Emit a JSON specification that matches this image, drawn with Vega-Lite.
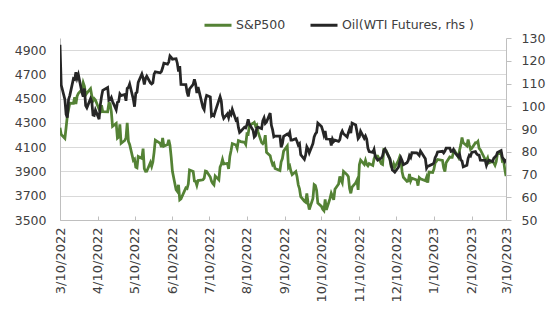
{
"$schema":"https://vega.github.io/schema/vega-lite/v6.json",
"width":446,"height":182,
"autosize":{"type":"none"},
"padding":{"left":60,"top":38,"right":42,"bottom":101},
"background":"white",
"config":{"view":{"stroke":null},"font":"DejaVu Sans","axis":{"labelFont":"DejaVu Sans","labelFontSize":12.5,"labelColor":"#404040","domainColor":"#bfbfbf","tickColor":"#bfbfbf","title":null},"legend":{"labelFont":"DejaVu Sans"}},
"data":{"values":[
{"date":"2022-03-10","spx":4259.5,"oil":127},
{"date":"2022-03-11","spx":4204.3,"oil":109.3},
{"date":"2022-03-14","spx":4173.1,"oil":103.0},
{"date":"2022-03-15","spx":4262.5,"oil":96.4},
{"date":"2022-03-16","spx":4357.9,"oil":95.0},
{"date":"2022-03-17","spx":4411.7,"oil":103.0},
{"date":"2022-03-18","spx":4463.1,"oil":104.7},
{"date":"2022-03-21","spx":4461.2,"oil":112.1},
{"date":"2022-03-22","spx":4511.6,"oil":111.8},
{"date":"2022-03-23","spx":4456.2,"oil":114.9},
{"date":"2022-03-24","spx":4520.2,"oil":112.3},
{"date":"2022-03-25","spx":4543.1,"oil":113.9},
{"date":"2022-03-28","spx":4575.5,"oil":106.0},
{"date":"2022-03-29","spx":4631.6,"oil":104.2},
{"date":"2022-03-30","spx":4602.5,"oil":107.8},
{"date":"2022-03-31","spx":4530.4,"oil":100.3},
{"date":"2022-04-01","spx":4545.9,"oil":99.3},
{"date":"2022-04-04","spx":4582.6,"oil":103.3},
{"date":"2022-04-05","spx":4525.1,"oil":102.0},
{"date":"2022-04-06","spx":4481.2,"oil":96.2},
{"date":"2022-04-07","spx":4500.2,"oil":96.0},
{"date":"2022-04-08","spx":4488.3,"oil":98.3},
{"date":"2022-04-11","spx":4412.5,"oil":94.3},
{"date":"2022-04-12","spx":4397.5,"oil":100.6},
{"date":"2022-04-13","spx":4446.6,"oil":104.3},
{"date":"2022-04-14","spx":4392.6,"oil":107.0},
{"date":"2022-04-18","spx":4391.7,"oil":108.2},
{"date":"2022-04-19","spx":4462.2,"oil":102.6},
{"date":"2022-04-20","spx":4459.5,"oil":102.8},
{"date":"2022-04-21","spx":4393.7,"oil":103.8},
{"date":"2022-04-22","spx":4271.8,"oil":102.1},
{"date":"2022-04-25","spx":4296.1,"oil":98.5},
{"date":"2022-04-26","spx":4175.2,"oil":101.7},
{"date":"2022-04-27","spx":4184.0,"oil":102.0},
{"date":"2022-04-28","spx":4287.5,"oil":105.4},
{"date":"2022-04-29","spx":4131.9,"oil":104.7},
{"date":"2022-05-02","spx":4155.4,"oil":105.2},
{"date":"2022-05-03","spx":4175.5,"oil":102.4},
{"date":"2022-05-04","spx":4300.2,"oil":107.8},
{"date":"2022-05-05","spx":4146.9,"oil":108.3},
{"date":"2022-05-06","spx":4123.3,"oil":109.8},
{"date":"2022-05-09","spx":3991.2,"oil":103.1},
{"date":"2022-05-10","spx":4001.1,"oil":99.8},
{"date":"2022-05-11","spx":3935.2,"oil":105.7},
{"date":"2022-05-12","spx":3930.1,"oil":106.1},
{"date":"2022-05-13","spx":4023.9,"oil":110.5},
{"date":"2022-05-16","spx":4008.0,"oil":114.2},
{"date":"2022-05-17","spx":4088.9,"oil":112.4},
{"date":"2022-05-18","spx":3923.7,"oil":109.6},
{"date":"2022-05-19","spx":3900.8,"oil":112.2},
{"date":"2022-05-20","spx":3901.4,"oil":113.2},
{"date":"2022-05-23","spx":3973.8,"oil":110.3},
{"date":"2022-05-24","spx":3941.5,"oil":109.8},
{"date":"2022-05-25","spx":3978.7,"oil":110.3},
{"date":"2022-05-26","spx":4057.8,"oil":114.1},
{"date":"2022-05-27","spx":4158.2,"oil":115.1},
{"date":"2022-05-31","spx":4132.2,"oil":114.7},
{"date":"2022-06-01","spx":4101.2,"oil":115.3},
{"date":"2022-06-02","spx":4176.8,"oil":116.9},
{"date":"2022-06-03","spx":4108.5,"oil":118.9},
{"date":"2022-06-06","spx":4121.4,"oil":118.5},
{"date":"2022-06-07","spx":4160.7,"oil":119.4},
{"date":"2022-06-08","spx":4115.8,"oil":122.1},
{"date":"2022-06-09","spx":4017.8,"oil":121.5},
{"date":"2022-06-10","spx":3900.9,"oil":120.7},
{"date":"2022-06-13","spx":3749.6,"oil":120.9},
{"date":"2022-06-14","spx":3735.5,"oil":118.9},
{"date":"2022-06-15","spx":3790.0,"oil":115.3},
{"date":"2022-06-16","spx":3666.8,"oil":117.6},
{"date":"2022-06-17","spx":3674.8,"oil":109.6},
{"date":"2022-06-21","spx":3764.8,"oil":109.5},
{"date":"2022-06-22","spx":3759.9,"oil":106.2},
{"date":"2022-06-23","spx":3795.7,"oil":104.3},
{"date":"2022-06-24","spx":3911.7,"oil":107.6},
{"date":"2022-06-27","spx":3900.1,"oil":109.6},
{"date":"2022-06-28","spx":3821.6,"oil":111.8},
{"date":"2022-06-29","spx":3818.8,"oil":109.8},
{"date":"2022-06-30","spx":3785.4,"oil":105.8},
{"date":"2022-07-01","spx":3825.3,"oil":108.4},
{"date":"2022-07-05","spx":3831.4,"oil":99.5},
{"date":"2022-07-06","spx":3845.1,"oil":98.5},
{"date":"2022-07-07","spx":3902.6,"oil":102.7},
{"date":"2022-07-08","spx":3899.4,"oil":104.8},
{"date":"2022-07-11","spx":3854.4,"oil":104.1},
{"date":"2022-07-12","spx":3818.8,"oil":95.8},
{"date":"2022-07-13","spx":3801.8,"oil":96.3},
{"date":"2022-07-14","spx":3790.4,"oil":95.8},
{"date":"2022-07-15","spx":3863.2,"oil":97.6},
{"date":"2022-07-18","spx":3830.9,"oil":102.6},
{"date":"2022-07-19","spx":3936.7,"oil":104.2},
{"date":"2022-07-20","spx":3959.9,"oil":102.3},
{"date":"2022-07-21","spx":3999.0,"oil":96.4},
{"date":"2022-07-22","spx":3961.6,"oil":94.7},
{"date":"2022-07-25","spx":3966.8,"oil":96.7},
{"date":"2022-07-26","spx":3921.1,"oil":95.0},
{"date":"2022-07-27","spx":4023.6,"oil":97.3},
{"date":"2022-07-28","spx":4072.4,"oil":96.4},
{"date":"2022-07-29","spx":4130.3,"oil":98.6},
{"date":"2022-08-01","spx":4118.6,"oil":93.9},
{"date":"2022-08-02","spx":4091.2,"oil":94.4},
{"date":"2022-08-03","spx":4155.2,"oil":90.7},
{"date":"2022-08-04","spx":4151.9,"oil":88.5},
{"date":"2022-08-05","spx":4145.2,"oil":89.0},
{"date":"2022-08-08","spx":4140.1,"oil":90.8},
{"date":"2022-08-09","spx":4122.5,"oil":90.5},
{"date":"2022-08-10","spx":4210.2,"oil":91.9},
{"date":"2022-08-11","spx":4207.3,"oil":94.3},
{"date":"2022-08-12","spx":4280.2,"oil":92.1},
{"date":"2022-08-15","spx":4297.1,"oil":89.4},
{"date":"2022-08-16","spx":4305.2,"oil":86.5},
{"date":"2022-08-17","spx":4274.0,"oil":87.1},
{"date":"2022-08-18","spx":4283.7,"oil":90.5},
{"date":"2022-08-19","spx":4228.5,"oil":90.8},
{"date":"2022-08-22","spx":4138.0,"oil":90.2},
{"date":"2022-08-23","spx":4128.7,"oil":93.7},
{"date":"2022-08-24","spx":4140.8,"oil":94.9},
{"date":"2022-08-25","spx":4199.1,"oil":92.5},
{"date":"2022-08-26","spx":4057.7,"oil":93.1},
{"date":"2022-08-29","spx":4030.6,"oil":97.0},
{"date":"2022-08-30","spx":3986.2,"oil":91.6},
{"date":"2022-08-31","spx":3955.0,"oil":89.6},
{"date":"2022-09-01","spx":3966.9,"oil":86.6},
{"date":"2022-09-02","spx":3924.3,"oil":86.9},
{"date":"2022-09-06","spx":3908.2,"oil":86.9},
{"date":"2022-09-07","spx":3979.9,"oil":81.9},
{"date":"2022-09-08","spx":4006.2,"oil":83.5},
{"date":"2022-09-09","spx":4067.4,"oil":86.8},
{"date":"2022-09-12","spx":4110.4,"oil":87.8},
{"date":"2022-09-13","spx":3932.7,"oil":87.3},
{"date":"2022-09-14","spx":3946.0,"oil":88.5},
{"date":"2022-09-15","spx":3901.4,"oil":85.1},
{"date":"2022-09-16","spx":3873.3,"oil":85.1},
{"date":"2022-09-19","spx":3899.9,"oil":85.7},
{"date":"2022-09-20","spx":3855.9,"oil":84.5},
{"date":"2022-09-21","spx":3789.9,"oil":82.9},
{"date":"2022-09-22","spx":3758.0,"oil":83.5},
{"date":"2022-09-23","spx":3693.2,"oil":78.7},
{"date":"2022-09-26","spx":3655.0,"oil":76.7},
{"date":"2022-09-27","spx":3647.3,"oil":78.5},
{"date":"2022-09-28","spx":3719.0,"oil":82.2},
{"date":"2022-09-29","spx":3640.5,"oil":81.2},
{"date":"2022-09-30","spx":3585.6,"oil":79.5},
{"date":"2022-10-03","spx":3678.4,"oil":83.6},
{"date":"2022-10-04","spx":3790.9,"oil":86.5},
{"date":"2022-10-05","spx":3783.3,"oil":87.8},
{"date":"2022-10-06","spx":3744.5,"oil":88.5},
{"date":"2022-10-07","spx":3639.7,"oil":92.6},
{"date":"2022-10-10","spx":3612.4,"oil":91.1},
{"date":"2022-10-11","spx":3588.8,"oil":89.4},
{"date":"2022-10-12","spx":3577.0,"oil":87.3},
{"date":"2022-10-13","spx":3669.9,"oil":89.1},
{"date":"2022-10-14","spx":3583.1,"oil":85.6},
{"date":"2022-10-17","spx":3678.0,"oil":85.5},
{"date":"2022-10-18","spx":3720.0,"oil":82.8},
{"date":"2022-10-19","spx":3695.2,"oil":85.6},
{"date":"2022-10-20","spx":3665.8,"oil":84.5},
{"date":"2022-10-21","spx":3752.8,"oil":85.1},
{"date":"2022-10-24","spx":3797.3,"oil":84.6},
{"date":"2022-10-25","spx":3859.1,"oil":85.3},
{"date":"2022-10-26","spx":3830.6,"oil":87.9},
{"date":"2022-10-27","spx":3807.3,"oil":89.1},
{"date":"2022-10-28","spx":3901.1,"oil":87.9},
{"date":"2022-10-31","spx":3872.0,"oil":86.5},
{"date":"2022-11-01","spx":3856.1,"oil":88.4},
{"date":"2022-11-02","spx":3759.7,"oil":90.0},
{"date":"2022-11-03","spx":3719.9,"oil":88.2},
{"date":"2022-11-04","spx":3770.6,"oil":92.6},
{"date":"2022-11-07","spx":3806.8,"oil":91.8},
{"date":"2022-11-08","spx":3828.1,"oil":88.9},
{"date":"2022-11-09","spx":3748.6,"oil":85.8},
{"date":"2022-11-10","spx":3956.4,"oil":86.5},
{"date":"2022-11-11","spx":3992.9,"oil":89.0},
{"date":"2022-11-14","spx":3957.3,"oil":85.9},
{"date":"2022-11-15","spx":3991.7,"oil":86.9},
{"date":"2022-11-16","spx":3958.8,"oil":85.6},
{"date":"2022-11-17","spx":3946.6,"oil":81.6},
{"date":"2022-11-18","spx":3965.3,"oil":80.1},
{"date":"2022-11-21","spx":3949.9,"oil":79.7},
{"date":"2022-11-22","spx":4003.6,"oil":81.0},
{"date":"2022-11-23","spx":4027.3,"oil":77.9},
{"date":"2022-11-25","spx":4026.1,"oil":76.3},
{"date":"2022-11-28","spx":3963.9,"oil":77.2},
{"date":"2022-11-29","spx":3957.6,"oil":78.2},
{"date":"2022-11-30","spx":4080.1,"oil":80.6},
{"date":"2022-12-01","spx":4076.6,"oil":81.2},
{"date":"2022-12-02","spx":4071.7,"oil":80.0},
{"date":"2022-12-05","spx":3998.8,"oil":76.9},
{"date":"2022-12-06","spx":3941.3,"oil":74.3},
{"date":"2022-12-07","spx":3933.9,"oil":72.0},
{"date":"2022-12-08","spx":3963.5,"oil":71.5},
{"date":"2022-12-09","spx":3934.4,"oil":71.0},
{"date":"2022-12-12","spx":3990.6,"oil":73.2},
{"date":"2022-12-13","spx":4019.7,"oil":75.4},
{"date":"2022-12-14","spx":3995.3,"oil":77.3},
{"date":"2022-12-15","spx":3895.8,"oil":76.1},
{"date":"2022-12-16","spx":3852.4,"oil":74.3},
{"date":"2022-12-19","spx":3817.7,"oil":75.2},
{"date":"2022-12-20","spx":3821.6,"oil":76.2},
{"date":"2022-12-21","spx":3878.4,"oil":78.3},
{"date":"2022-12-22","spx":3822.4,"oil":77.5},
{"date":"2022-12-23","spx":3844.8,"oil":79.6},
{"date":"2022-12-27","spx":3829.3,"oil":79.5},
{"date":"2022-12-28","spx":3783.2,"oil":79.0},
{"date":"2022-12-29","spx":3849.3,"oil":78.4},
{"date":"2022-12-30","spx":3839.5,"oil":80.3},
{"date":"2023-01-03","spx":3824.1,"oil":76.9},
{"date":"2023-01-04","spx":3853.0,"oil":72.8},
{"date":"2023-01-05","spx":3808.1,"oil":73.7},
{"date":"2023-01-06","spx":3895.1,"oil":73.8},
{"date":"2023-01-09","spx":3892.1,"oil":74.6},
{"date":"2023-01-10","spx":3919.3,"oil":75.1},
{"date":"2023-01-11","spx":3969.6,"oil":77.4},
{"date":"2023-01-12","spx":3983.2,"oil":78.4},
{"date":"2023-01-13","spx":3999.1,"oil":79.9},
{"date":"2023-01-17","spx":3991.0,"oil":80.2},
{"date":"2023-01-18","spx":3928.9,"oil":79.5},
{"date":"2023-01-19","spx":3898.9,"oil":80.3},
{"date":"2023-01-20","spx":3972.6,"oil":81.6},
{"date":"2023-01-23","spx":4019.8,"oil":81.6},
{"date":"2023-01-24","spx":4017.0,"oil":80.1},
{"date":"2023-01-25","spx":4016.2,"oil":80.2},
{"date":"2023-01-26","spx":4060.4,"oil":81.0},
{"date":"2023-01-27","spx":4070.6,"oil":79.7},
{"date":"2023-01-30","spx":4017.8,"oil":77.9},
{"date":"2023-01-31","spx":4076.6,"oil":78.9},
{"date":"2023-02-01","spx":4119.2,"oil":76.4},
{"date":"2023-02-02","spx":4179.8,"oil":75.9},
{"date":"2023-02-03","spx":4136.5,"oil":73.4},
{"date":"2023-02-06","spx":4111.1,"oil":74.1},
{"date":"2023-02-07","spx":4164.0,"oil":77.1},
{"date":"2023-02-08","spx":4117.9,"oil":78.5},
{"date":"2023-02-09","spx":4081.5,"oil":78.1},
{"date":"2023-02-10","spx":4090.5,"oil":79.7},
{"date":"2023-02-13","spx":4137.3,"oil":80.1},
{"date":"2023-02-14","spx":4136.1,"oil":79.1},
{"date":"2023-02-15","spx":4147.6,"oil":78.6},
{"date":"2023-02-16","spx":4090.4,"oil":78.5},
{"date":"2023-02-17","spx":4079.1,"oil":76.3},
{"date":"2023-02-21","spx":3997.3,"oil":76.2},
{"date":"2023-02-22","spx":3991.1,"oil":74.0},
{"date":"2023-02-23","spx":4012.3,"oil":75.4},
{"date":"2023-02-24","spx":3970.0,"oil":76.3},
{"date":"2023-02-27","spx":3982.2,"oil":75.7},
{"date":"2023-02-28","spx":3970.2,"oil":77.1},
{"date":"2023-03-01","spx":3951.4,"oil":77.7},
{"date":"2023-03-02","spx":3981.4,"oil":78.2},
{"date":"2023-03-03","spx":4045.6,"oil":79.7},
{"date":"2023-03-06","spx":4048.4,"oil":80.5},
{"date":"2023-03-07","spx":3986.4,"oil":77.6},
{"date":"2023-03-08","spx":3992.0,"oil":76.7},
{"date":"2023-03-09","spx":3918.3,"oil":75.7},
{"date":"2023-03-10","spx":3861.6,"oil":76.7}
]},
"encoding":{"x":{"field":"date","type":"temporal",
 "scale":{"type":"utc","domain":[{"year":2022,"month":3,"date":10,"utc":true},{"year":2023,"month":3,"date":10,"utc":true}]},
 "axis":{"format":"%-m/%-d/%Y","labelAngle":-90,"labelFontSize":13,"grid":false,"tickSize":-4,"labelPadding":11,"labelBound":false,"labelOverlap":false,"labelFlush":false,
  "values":[{"year":2022,"month":3,"date":10,"utc":true},{"year":2022,"month":4,"date":10,"utc":true},{"year":2022,"month":5,"date":10,"utc":true},{"year":2022,"month":6,"date":10,"utc":true},{"year":2022,"month":7,"date":10,"utc":true},{"year":2022,"month":8,"date":10,"utc":true},{"year":2022,"month":9,"date":10,"utc":true},{"year":2022,"month":10,"date":10,"utc":true},{"year":2022,"month":11,"date":10,"utc":true},{"year":2022,"month":12,"date":10,"utc":true},{"year":2023,"month":1,"date":10,"utc":true},{"year":2023,"month":2,"date":10,"utc":true},{"year":2023,"month":3,"date":10,"utc":true}]}}},
"layer":[
 {"mark":{"type":"line","strokeWidth":2.75,"clip":true},
  "encoding":{
   "y":{"field":"spx","type":"quantitative","scale":{"domain":[3500,5000],"nice":false,"zero":false},
    "axis":{"orient":"left","values":[3500,3700,3900,4100,4300,4500,4700,4900],"format":"d","grid":true,"gridColor":"#d9d9d9","ticks":false,"labelPadding":14}},
   "color":{"datum":"S&P500","type":"nominal","scale":{"domain":["S&P500","Oil(WTI Futures, rhs )"],"range":["#548235","#262626"]},
    "legend":{"orient":"none","legendX":143,"legendY":-28,"direction":"horizontal","title":null,"symbolType":"stroke","symbolSize":729,"symbolStrokeWidth":3,"labelFontSize":12.5,"labelColor":"#404040","columnPadding":18,"labelOffset":3}}}},
 {"mark":{"type":"line","strokeWidth":2.75,"clip":true},
  "encoding":{
   "y":{"field":"oil","type":"quantitative","scale":{"domain":[50,130],"nice":false,"zero":false},
    "axis":{"orient":"right","values":[50,60,70,80,90,100,110,120,130],"grid":false,"tickSize":5,"labelPadding":10}},
   "color":{"datum":"Oil(WTI Futures, rhs )","type":"nominal"}}}
],
"resolve":{"scale":{"y":"independent"}}
}
